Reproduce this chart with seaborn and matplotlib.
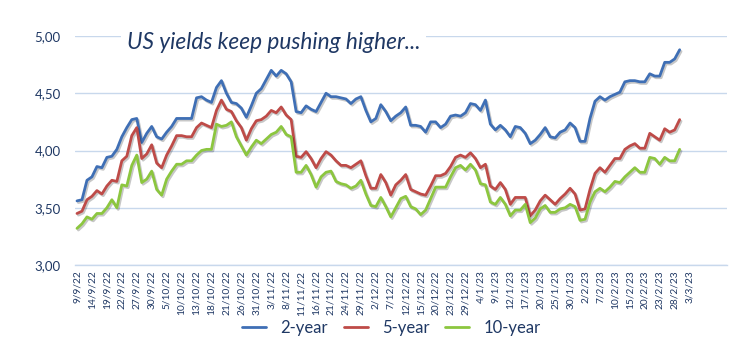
import matplotlib
matplotlib.use("Agg")
import numpy as np
import pandas as pd
import seaborn as sns
import matplotlib.pyplot as plt
from matplotlib import patheffects as pe
from matplotlib.ticker import FuncFormatter

sns.set_theme(style="white")
plt.rcParams["font.family"] = ["Lato", "DejaVu Sans"]

# ---------------- data ----------------
start_date = "2022-09-09"
axis_end_date = "2023-03-14"
holidays = ["2022-12-26", "2023-01-02"]
hol = set(pd.to_datetime(holidays))
dates = [d for d in pd.bdate_range(start_date, axis_end_date) if d not in hol]
date_labels = [f"{d.day}/{d.month}/{d:%y}" for d in dates]

series_names = ["2-year", "5-year", "10-year"]

y2 = [3.56, 3.57, 3.74, 3.77, 3.86, 3.85, 3.94, 3.95, 4.01, 4.12,
      4.20, 4.27, 4.28, 4.07, 4.15, 4.21, 4.12, 4.10, 4.16, 4.21,
      4.28, 4.28, 4.28, 4.28, 4.46, 4.47, 4.44, 4.42, 4.55, 4.61,
      4.50, 4.42, 4.41, 4.37, 4.29, 4.39, 4.50, 4.54, 4.62, 4.70,
      4.65, 4.70, 4.67, 4.60, 4.34, 4.33, 4.39, 4.36, 4.34, 4.42,
      4.50, 4.47, 4.47, 4.46, 4.45, 4.41, 4.45, 4.47, 4.35, 4.25,
      4.28, 4.40, 4.34, 4.26, 4.30, 4.33, 4.38, 4.22, 4.22, 4.21,
      4.16, 4.25, 4.25, 4.20, 4.23, 4.30, 4.31, 4.30, 4.33, 4.41,
      4.40, 4.35, 4.44, 4.23, 4.18, 4.22, 4.18, 4.12, 4.21, 4.20,
      4.15, 4.06, 4.09, 4.14, 4.20, 4.12, 4.11, 4.16, 4.18, 4.24,
      4.20, 4.08, 4.08, 4.28, 4.43, 4.47, 4.44, 4.47, 4.49, 4.51,
      4.60, 4.61, 4.61, 4.60, 4.60, 4.67, 4.65, 4.65, 4.77, 4.77,
      4.80, 4.88]

y5 = [3.45, 3.47, 3.57, 3.60, 3.65, 3.62, 3.69, 3.74, 3.73, 3.91,
      3.95, 4.13, 4.20, 3.93, 3.97, 4.05, 3.89, 3.85, 3.96, 4.04,
      4.13, 4.13, 4.12, 4.12, 4.20, 4.24, 4.22, 4.20, 4.35, 4.44,
      4.36, 4.34, 4.26, 4.20, 4.09, 4.19, 4.26, 4.27, 4.30, 4.35,
      4.33, 4.38, 4.31, 4.27, 3.95, 3.94, 3.99, 3.93, 3.85, 3.93,
      3.99, 3.96, 3.91, 3.87, 3.87, 3.85, 3.88, 3.91, 3.78, 3.67,
      3.67, 3.79, 3.72, 3.61, 3.70, 3.74, 3.79, 3.66, 3.64, 3.62,
      3.61, 3.69, 3.78, 3.78, 3.80, 3.86, 3.94, 3.96, 3.94, 3.98,
      3.93, 3.85, 3.88, 3.69, 3.66, 3.72, 3.66, 3.53, 3.59, 3.59,
      3.59, 3.43, 3.48, 3.56, 3.61, 3.57, 3.53, 3.58, 3.62, 3.67,
      3.62, 3.48, 3.49, 3.66, 3.80, 3.85, 3.81, 3.87, 3.93, 3.93,
      4.01, 4.04, 4.06, 4.02, 4.02, 4.15, 4.12, 4.09, 4.19, 4.16,
      4.18, 4.27]

y10 = [3.32, 3.36, 3.42, 3.40, 3.45, 3.45, 3.50, 3.57, 3.50, 3.70,
       3.69, 3.87, 3.96, 3.72, 3.75, 3.82, 3.66, 3.61, 3.75, 3.82,
       3.88, 3.88, 3.91, 3.91, 3.96, 4.00, 4.01, 4.01, 4.23, 4.21,
       4.22, 4.25, 4.12, 4.04, 3.96, 4.03, 4.09, 4.06, 4.10, 4.14,
       4.16, 4.21, 4.14, 4.12, 3.81, 3.81, 3.87, 3.79, 3.68, 3.77,
       3.81, 3.82, 3.73, 3.71, 3.70, 3.67, 3.69, 3.74, 3.62, 3.52,
       3.51, 3.59, 3.51, 3.42, 3.50, 3.58, 3.60, 3.51, 3.49, 3.44,
       3.48, 3.58, 3.68, 3.68, 3.68, 3.77, 3.85, 3.87, 3.83, 3.88,
       3.83, 3.71, 3.70, 3.55, 3.53, 3.59, 3.53, 3.43, 3.48, 3.48,
       3.53, 3.37, 3.41, 3.49, 3.52, 3.46, 3.46, 3.49, 3.50, 3.53,
       3.51, 3.39, 3.40, 3.55, 3.64, 3.67, 3.64, 3.68, 3.73, 3.72,
       3.77, 3.81, 3.85, 3.81, 3.81, 3.94, 3.93, 3.88, 3.94, 3.91,
       3.91, 4.01]

yticks = [3.00, 3.50, 4.00, 4.50, 5.00]
title = "US yields keep pushing higher..."

# ---------------- style ----------------
colors = {"2-year": "#3f6fb5", "5-year": "#be4b48", "10-year": "#8cc63f"}
navy = "#1f3864"
grid_c = "#c8d8ec"

n = len(y2)
df = pd.DataFrame({
    "pos": list(range(n)) * 3,
    "yield": y2 + y5 + y10,
    "tenor": [series_names[0]] * n + [series_names[1]] * n + [series_names[2]] * n,
})

fig = plt.figure(figsize=(7.37, 3.59), dpi=100)
ax = fig.add_axes([0.1011, 0.2618, 0.8853, 0.6379])

sns.lineplot(data=df, x="pos", y="yield", hue="tenor", hue_order=series_names,
             palette=colors, linewidth=2.0, ax=ax, legend=True)
for line in ax.lines:
    line.set_path_effects([pe.SimpleLineShadow(offset=(1.0, -1.2), shadow_color="black", alpha=0.22),
                           pe.Normal()])
    line.set_solid_joinstyle("round")

ax.set_ylim(3.0, 5.0)
ax.set_yticks(yticks)
ax.yaxis.set_major_formatter(FuncFormatter(lambda v, p: f"{v:.2f}".replace(".", ",")))
ax.yaxis.grid(True, color=grid_c, linewidth=1.0)
ax.set_axisbelow(True)

ax.set_xlim(-0.5, len(dates) - 0.5)
major = list(range(0, 124, 3))
ax.set_xticks(major)
ax.set_xticklabels([date_labels[i] for i in major], rotation=90)
ax.set_xticks(np.arange(-0.5, len(dates), 1.0), minor=True)
ax.tick_params(axis="x", which="major", length=0, pad=4, labelsize=7.3, labelcolor=navy)
ax.tick_params(axis="x", which="minor", direction="in", length=3.5, width=0.8, color=grid_c)
ax.tick_params(axis="y", length=0, pad=10, labelsize=9.5, labelcolor=navy)

for s in ["top", "right", "left"]:
    ax.spines[s].set_visible(False)
ax.spines["bottom"].set_color(grid_c)
ax.spines["bottom"].set_linewidth(1.0)
ax.set_xlabel("")
ax.set_ylabel("")

ax.text(0.3055, 0.972, title, transform=ax.transAxes, ha="center", va="center",
        fontsize=16.3, style="italic", color=navy, zorder=6,
        bbox=dict(facecolor="white", edgecolor="none", pad=4))

sns.move_legend(ax, "center", bbox_to_anchor=(0.531, 0.087), bbox_transform=fig.transFigure,
                ncol=3, frameon=False, title=None, fontsize=12,
                handlelength=1.45, handletextpad=0.85, columnspacing=0.95)
leg = ax.get_legend()
for t in leg.get_texts():
    t.set_color(navy)
for h in leg.get_lines():
    h.set_linewidth(2.0)

fig.savefig("out.png", dpi=100, facecolor="white")
